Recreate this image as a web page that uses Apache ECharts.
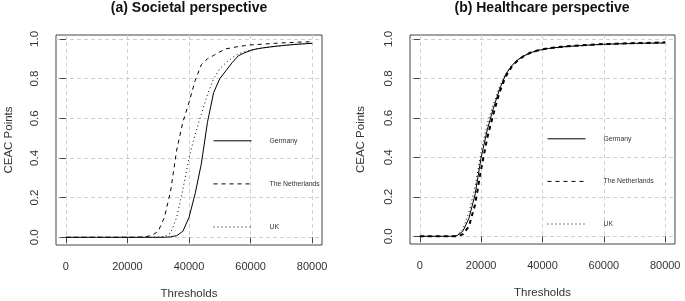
<!DOCTYPE html>
<html>
<head>
<meta charset="utf-8">
<script src="https://cdn.jsdelivr.net/npm/echarts@6/dist/echarts.min.js"></script>
<style>
  html, body { margin: 0; padding: 0; background: #fff; }
  #chart { width: 685px; height: 301px; }
</style>
</head>
<body>
<div id="chart"></div>
<script>
const FONT = '"Liberation Sans", Arial, sans-serif';

const thresholds = [
  0, 2000, 4000, 6000, 8000, 10000, 12000, 14000, 16000, 18000,
  20000, 22000, 24000, 26000, 28000, 30000, 32000, 34000, 36000, 38000,
  40000, 42000, 44000, 46000, 48000, 50000, 52000, 54000, 56000, 58000,
  60000, 62000, 64000, 66000, 68000, 70000, 72000, 74000, 76000, 78000, 80000
];
const countries = ["Germany", "The Netherlands", "UK"];
const xTicks = [0, 20000, 40000, 60000, 80000];
const yTicks = [0, 0.2, 0.4, 0.6, 0.8, 1.0];

// (a) societal perspective
const societalGermany = [
  0, 0, 0, 0, 0, 0, 0, 0, 0, 0,
  0, 0, 0, 0, 0, 0, 0, 0.002, 0.008, 0.03,
  0.1, 0.22, 0.37, 0.58, 0.73, 0.8, 0.84, 0.88, 0.915, 0.93,
  0.942, 0.95, 0.955, 0.959, 0.963, 0.966, 0.969, 0.972, 0.974, 0.976, 0.978
];
const societalNetherlands = [
  0, 0, 0, 0, 0, 0, 0, 0, 0, 0,
  0, 0, 0.001, 0.003, 0.01, 0.03, 0.1, 0.23, 0.44, 0.58,
  0.68, 0.79, 0.87, 0.9, 0.917, 0.935, 0.95, 0.956, 0.962, 0.966,
  0.97, 0.972, 0.974, 0.976, 0.978, 0.98, 0.981, 0.983, 0.984, 0.985, 0.986
];
const societalUK = [
  0, 0, 0, 0, 0, 0, 0, 0, 0, 0,
  0, 0, 0, 0, 0, 0.001, 0.004, 0.02, 0.1, 0.24,
  0.4, 0.52, 0.62, 0.72, 0.8, 0.85, 0.88, 0.905, 0.925, 0.935,
  0.944, 0.95, 0.955, 0.959, 0.963, 0.966, 0.969, 0.972, 0.975, 0.977, 0.979
];

// (b) healthcare perspective
const healthGermany = [
  0, 0, 0, 0, 0, 0, 0.002, 0.025, 0.09, 0.21,
  0.4, 0.54, 0.65, 0.745, 0.82, 0.865, 0.895, 0.915, 0.93, 0.94,
  0.947, 0.952, 0.956, 0.959, 0.962, 0.964, 0.966, 0.968, 0.97, 0.972,
  0.973, 0.974, 0.975, 0.976, 0.977, 0.978, 0.978, 0.979, 0.979, 0.98, 0.98
];
const healthNetherlands = [
  0, 0, 0, 0, 0, 0, 0, 0.01, 0.05, 0.16,
  0.34, 0.5, 0.62, 0.73, 0.81, 0.86, 0.893, 0.914, 0.93, 0.94,
  0.948, 0.953, 0.957, 0.96, 0.963, 0.965, 0.967, 0.969, 0.971, 0.973,
  0.974, 0.975, 0.976, 0.977, 0.978, 0.979, 0.98, 0.98, 0.981, 0.982, 0.983
];
const healthUK = [
  0, 0, 0, 0, 0, 0, 0.004, 0.035, 0.12, 0.25,
  0.43, 0.57, 0.67, 0.76, 0.825, 0.866, 0.894, 0.913, 0.927, 0.937,
  0.945, 0.95, 0.954, 0.957, 0.96, 0.962, 0.964, 0.966, 0.968, 0.97,
  0.971, 0.972, 0.973, 0.974, 0.975, 0.976, 0.976, 0.977, 0.977, 0.978, 0.978
];

const dashStyles = {
  "Germany": "solid",
  "The Netherlands": [4, 4],
  "UK": [1, 3],
};

const pairs = (values) => thresholds.map((t, i) => [t, values[i]]);

function panelAxes(index) {
  const x = {
    type: "value",
    gridIndex: index,
    min: -3200,
    max: 83200,
    name: "Thresholds",
    nameLocation: "middle",
    nameGap: 43,
    nameTextStyle: { fontFamily: FONT, fontSize: 11.5, color: "#333" },
    axisLine: { show: false },
    axisTick: { show: true, customValues: xTicks, length: 6, lineStyle: { color: "#444" } },
    axisLabel: {
      customValues: xTicks, margin: 16,
      fontFamily: FONT, fontSize: 11, color: "#333",
      formatter: (v) => String(v),
    },
    splitLine: { show: true, lineStyle: { color: "#d0d0d0", type: [4, 3] } },
  };
  const y = {
    type: "value",
    gridIndex: index,
    min: -0.039,
    max: 1.02,
    name: "CEAC Points",
    nameLocation: "middle",
    nameGap: index === 0 ? 41 : 43,
    nameTextStyle: { fontFamily: FONT, fontSize: 11.5, color: "#333" },
    axisLine: { show: false },
    axisTick: { show: true, customValues: yTicks, length: 6, lineStyle: { color: "#444" } },
    axisLabel: {
      customValues: yTicks, rotate: 90, margin: 15,
      fontFamily: FONT, fontSize: 11.5, color: "#333",
      formatter: (v) => v.toFixed(1),
    },
    splitLine: { show: true, lineStyle: { color: "#d0d0d0", type: [4, 3] } },
  };
  return { x, y };
}

const left = panelAxes(0);
const right = panelAxes(1);

function lineSeries(name, values, index, width) {
  return {
    name,
    type: "line",
    xAxisIndex: index,
    yAxisIndex: index,
    data: pairs(values),
    symbol: "none",
    smooth: false,
    animation: false,
    itemStyle: { color: "#000" },
    lineStyle: { color: "#000", width: width || 1, type: dashStyles[name] },
  };
}

function legendAt(x, y, gap) {
  return {
    data: countries,
    orient: "vertical",
    left: x,
    top: y,
    padding: 0,
    itemWidth: 38,
    itemHeight: 12,
    itemGap: gap,
    selectedMode: false,
    itemStyle: { opacity: 0 },
    lineStyle: { width: 1 },
    textStyle: { fontFamily: FONT, fontSize: 6.8, color: "#333", padding: [0, 0, 0, 13] },
  };
}

const chart = echarts.init(document.getElementById("chart"));
chart.setOption({
  backgroundColor: "#fff",
  animation: false,
  title: [
    {
      text: "(a) Societal perspective", left: 189, top: 1, padding: 0, textAlign: "center",
      textStyle: { fontFamily: FONT, fontSize: 14, fontWeight: "bold", color: "#111" },
    },
    {
      text: "(b) Healthcare perspective", left: 542, top: 1, padding: 0, textAlign: "center",
      textStyle: { fontFamily: FONT, fontSize: 14, fontWeight: "bold", color: "#111" },
    },
  ],
  legend: [legendAt(213, 136, 33.5), legendAt(547, 134, 33)],
  grid: [
    {
      left: 56, top: 35, width: 266, height: 210, outerBoundsMode: "none",
      show: true, borderColor: "#444", borderWidth: 1, backgroundColor: "transparent",
    },
    {
      left: 410, top: 35, width: 265, height: 209, outerBoundsMode: "none",
      show: true, borderColor: "#444", borderWidth: 1, backgroundColor: "transparent",
    },
  ],
  xAxis: [left.x, right.x],
  yAxis: [left.y, right.y],
  series: [
    lineSeries("Germany", societalGermany, 0),
    lineSeries("The Netherlands", societalNetherlands, 0),
    lineSeries("UK", societalUK, 0),
    lineSeries("Germany", healthGermany, 1),
    lineSeries("The Netherlands", healthNetherlands, 1, 2),
    lineSeries("UK", healthUK, 1),
  ],
});
</script>
</body>
</html>
